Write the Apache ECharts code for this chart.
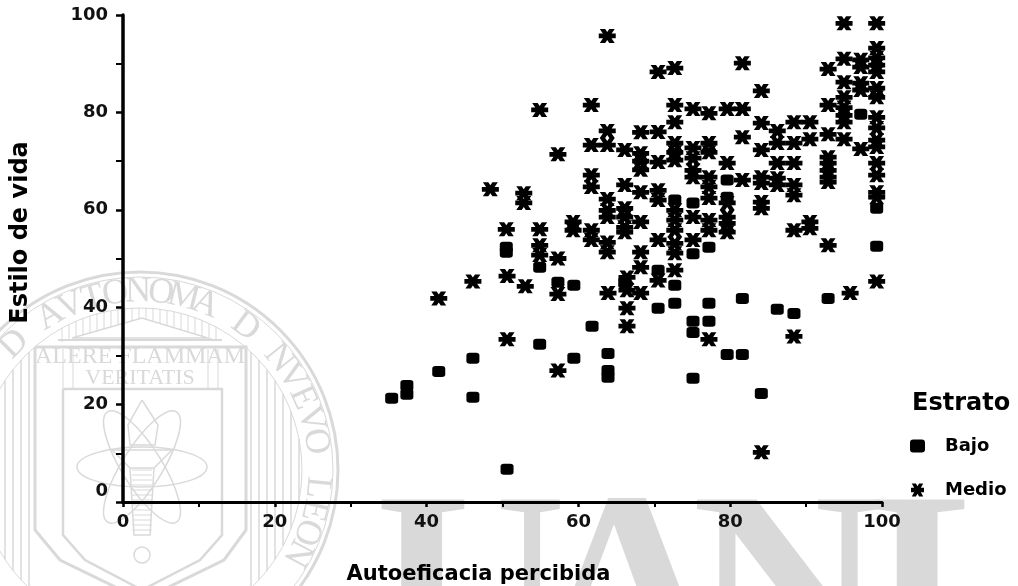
<!DOCTYPE html>
<html><head><meta charset="utf-8">
<style>html,body{margin:0;padding:0;background:#fff;overflow:hidden}#c{width:1018px;height:586px}</style>
<script src="https://cdn.jsdelivr.net/npm/echarts@6/dist/echarts.min.js"></script>
</head><body><div id="c"></div>
<script>
const xTitle = 'Autoeficacia percibida';
const yTitle = 'Estilo de vida';
const legendTitle = 'Estrato';
const seriesNames = ['Bajo', 'Medio'];
const bajoPoints = [
[35.4,21.3],[37.4,23.9],[37.4,22.1],[41.6,26.8],[46.1,29.5],[46.1,21.5],[50.6,6.7],[50.5,51.3],[50.5,52.3],
[54.9,48.2],[54.9,32.4],[57.3,45.1],[59.4,44.5],[59.4,29.5],[61.8,36.1],[63.9,30.5],[63.9,27],[63.9,25.6],
[66.1,45],[70.5,47.6],[70.5,39.8],[72.7,62],[72.7,44.5],[72.7,40.8],[75.1,61.4],[75.1,51],[75.1,37.1],[75.1,34.8],[75.1,25.4],
[77.2,52.3],[77.2,40.8],[77.2,37.1],[79.6,66.1],[79.6,62.6],[79.6,30.3],[81.6,41.8],[81.6,30.3],[84.1,22.3],
[86.2,39.6],[88.4,38.7],[92.9,41.8],[97.2,79.6],[99.3,60.3],[99.3,52.5]
];
const medioPoints = [
[41.6,41.8],[46.1,45.3],[48.4,64.2],[50.5,56],[50.6,46.4],[50.6,33.4],[52.8,63.4],[52.8,61.4],[53,44.3],
[54.9,80.5],[54.9,56],[54.9,52.7],[54.9,50.7],[57.3,71.4],[57.3,50],[57.3,42.7],[57.3,27],[59.3,57.5],[59.3,55.8],
[61.7,81.5],[61.7,73.3],[61.7,67.1],[61.7,64.7],[61.7,55.8],[61.7,53.8],
[63.8,95.7],[63.8,76.2],[63.8,73.3],[63.8,62.2],[63.8,59.9],[63.8,58.5],[63.8,53.3],[63.8,51.3],[63.9,42.9],
[66.1,72.3],[66.1,65.1],[66.1,60.3],[66.1,58.5],[66.1,56.4],[66.1,55.4],[66.4,46.1],[66.4,43.5],[66.4,39.8],[66.4,36.1],
[68.2,75.9],[68.2,71.6],[68.2,70],[68.2,68.2],[68.2,63.6],[68.2,57.5],[68.2,51.3],[68.2,48.2],[68.2,42.9],
[70.5,88.3],[70.5,76],[70.5,69.8],[70.5,64],[70.5,62],[70.5,53.8],[70.5,45.5],
[72.7,89.1],[72.7,81.5],[72.7,78],[72.7,73.7],[72.7,71.8],[72.7,70.2],[72.7,59.9],[72.7,57.9],[72.7,55.8],[72.7,53.1],[72.7,51.1],[72.7,47.6],
[75.1,80.7],[75.1,72.7],[75.1,70.6],[75.1,68.1],[75.1,66.7],[75.1,58.5],[75.1,53.8],
[77.2,79.8],[77.2,73.7],[77.2,71.8],[77.2,66.7],[77.2,64.7],[77.2,62.4],[77.2,57.9],[77.2,55.8],[77.2,33.4],
[79.6,80.7],[79.6,69.6],[79.6,61.4],[79.6,58.5],[79.6,57.2],[79.6,55.4],
[81.6,90.1],[81.6,80.7],[81.6,74.9],[81.6,66.1],
[84.1,84.4],[84.1,77.8],[84.1,72.3],[84.1,66.7],[84.1,65.5],[84.1,61.6],[84.1,60.3],[84.1,10.2],
[86.2,76.2],[86.2,73.7],[86.2,69.6],[86.2,66.5],[86.2,65.1],
[88.4,78],[88.4,73.7],[88.4,69.6],[88.4,65.1],[88.4,63],[88.4,55.8],[88.4,34],
[90.5,78],[90.5,74.5],[90.5,57.5],[90.5,56.2],
[92.9,88.9],[92.9,81.5],[92.9,75.5],[92.9,70.8],[92.9,69.6],[92.9,68.1],[92.9,66.7],[92.9,65.7],[92.9,52.7],
[95,98.3],[95,91],[95,86.2],[95,83.1],[95,81],[95,79.4],[95,78],[95,74.5],[95.8,42.9],
[97.2,90.8],[97.2,89.3],[97.2,86],[97.2,84.6],[97.2,72.5],
[99.3,98.3],[99.3,93.2],[99.3,91.2],[99.3,89.7],[99.3,88.3],[99.3,85],[99.3,83.1],[99.3,79],[99.3,76.8],[99.3,74.3],[99.3,72.9],[99.3,69.6],[99.3,67.1],[99.3,63.6],[99.3,62.6],[99.3,45.3]
];
const starPath = 'path://M0 33H100V67H0ZM6 0L38 0L94 100L62 100ZM62 0L94 0L38 100L6 100Z';
const ink = '#000';
const wm = '#d9d9d9';
const sealLetters = 'D AVTONOMA D NVEVO LEON';
const cx = 140, cy = 470;
const deco = [];
const line = (pts, w) => deco.push({type:'polyline', z:-10, shape:{points:pts}, style:{stroke:wm, fill:null, lineWidth:w||1}});
[[198,3],[193,1],[162,1]].forEach(([r,w]) => deco.push({type:'circle', z:-10, shape:{cx,cy,r}, style:{stroke:wm, fill:null, lineWidth:w}}));
// ring letters
[...sealLetters].forEach((ch,i) => {
  const a = (-45 + i*7.4) * Math.PI/180;
  deco.push({type:'text', z:-10, x:cx + 178*Math.sin(a), y:cy - 178*Math.cos(a), rotation:-a,
    style:{text:ch, font:'36px "Liberation Serif"', fill:wm, align:'center', verticalAlign:'middle'}});
});
// vertical stripes
for (let x = 251; x < 300; x += 8) {
  const h = Math.sqrt(162*162 - (x-cx)*(x-cx));
  line([[x,cy-h],[x,cy+h]], 1.5); line([[2*cx-x,cy-h],[2*cx-x,cy+h]], 1.5);
}
for (let x = 62; x <= 220; x += 7) {
  const h = Math.sqrt(162*162 - (x-cx)*(x-cx));
  line([[x,cy-h],[x,318 + Math.abs(x-142)*0.3]], 1);
}
// temple
line([[72,338],[142,318],[208,338],[72,338]], 1.5);
line([[58,340],[222,340]], 2); line([[58,347],[246,347]], 2);
line([[35,347],[35,530],[60,560],[142,600],[224,560],[246,530],[246,347],[35,347]], 3);
line([[63,389],[222,389],[222,535],[200,560],[142,590],[85,560],[63,535],[63,389]], 2.5);
[[63,389],[73,389],[208,389],[218,389]].forEach(p => line([[p[0],349],p], 1));
[['ALERE FLAMMAM',140,357,'24px'],['VERITATIS',140,378,'22px']].forEach(t => deco.push({type:'text', z:-10, x:t[1], y:t[2],
  style:{text:t[0], font:t[3]+' "Liberation Serif"', fill:wm, align:'center', verticalAlign:'middle'}}));
// torch & atom
[0,58,-58].forEach(r => deco.push({type:'ellipse', z:-10, x:142, y:467, rotation:r*Math.PI/180,
  shape:{cx:0, cy:0, rx:65, ry:20}, style:{stroke:wm, fill:null, lineWidth:1.5}}));
line([[142,400],[128,425],[130,445],[155,445],[158,425],[142,400]], 1.5);
line([[112,450],[172,450],[154,468],[130,468],[112,450]], 1.5);
line([[130,468],[134,535],[150,535],[154,468]], 1.5);
for (let y = 470; y < 535; y += 5) line([[132,y],[152,y]], 1);
deco.push({type:'circle', z:-10, shape:{cx:142, cy:555, r:8}, style:{stroke:wm, fill:null, lineWidth:1.5}});
// big letters
[['U',375],['A',531],['N',692],['L',870]].forEach(([t,x]) => deco.push({type:'text', z:-10, x, y:472,
  style:{text:t, font:'bold 265px "Liberation Serif"', fill:wm}}));

const tickFont = {fontFamily:'"DejaVu Sans"', fontWeight:'bold', fontSize:18, color:'#111'};
const option = {
  animation:false, backgroundColor:'#fff',
  graphic:{elements:deco},
  title:{text:legendTitle, left:907, top:387, textStyle:{fontFamily:'"DejaVu Sans"', fontWeight:'bold', fontSize:24, color:ink}},
  legend:{orient:'vertical', left:905, top:432, itemGap:26, itemWidth:15, itemHeight:13,
    data:[{name:seriesNames[0], icon:'roundRect'},{name:seriesNames[1], icon:starPath}],
    textStyle:{fontFamily:'"DejaVu Sans"', fontSize:18, fontWeight:'bold', color:ink, padding:[4,0,0,15]}},
  grid:{left:123, right:136, top:15, bottom:84, outerBoundsMode:'none'},
  xAxis:{type:'value', min:0, max:100, interval:20, splitLine:{show:false},
    name:xTitle, nameLocation:'middle', nameGap:62,
    nameTextStyle:{fontFamily:'"DejaVu Sans"', fontWeight:'bold', fontSize:21, color:ink, padding:[0,48,0,0]},
    axisLine:{onZero:false, lineStyle:{color:ink, width:3}},
    axisTick:{show:true, length:5, inside:false, lineStyle:{color:ink, width:2.5}},
    minorTick:{show:true, splitNumber:2, length:5, lineStyle:{color:ink, width:2}},
    axisLabel:{...tickFont, margin:11, showMaxLabel:true, showMinLabel:true}},
  yAxis:{type:'value', min:0, max:100, interval:20, splitLine:{show:false},
    name:yTitle, nameLocation:'middle', nameGap:90, nameRotate:90,
    nameTextStyle:{fontFamily:'"DejaVu Sans"', fontWeight:'bold', fontSize:24, color:ink, padding:[0,0,0,52]},
    axisLine:{onZero:false, lineStyle:{color:ink, width:3.5}},
    axisTick:{show:true, length:7, lineStyle:{color:ink, width:2.5}},
    minorTick:{show:true, splitNumber:2, length:7, lineStyle:{color:ink, width:2}},
    axisLabel:{...tickFont, margin:15, formatter:v => v === 0 ? '{z|0}' : String(v),
      rich:{z:{...tickFont, padding:[0,0,22,0]}}}},
  series:[
    {name:seriesNames[0], type:'scatter', data:bajoPoints, symbol:'roundRect', symbolSize:[13,11], itemStyle:{color:ink, opacity:1}, z:3},
    {name:seriesNames[1], type:'scatter', data:medioPoints, symbol:starPath, symbolSize:[17,14], itemStyle:{color:ink, opacity:1}, z:3}
  ]
};
echarts.init(document.getElementById('c'), null, {renderer:'canvas'}).setOption(option);
</script></body></html>
